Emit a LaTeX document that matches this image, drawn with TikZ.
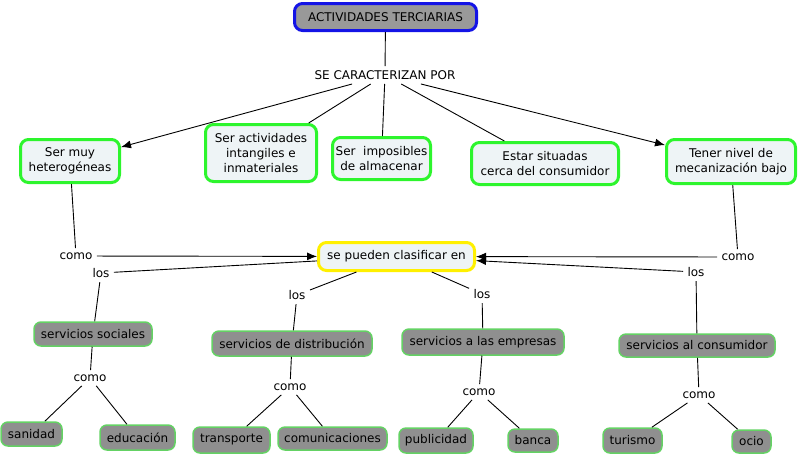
\documentclass[tikz,border=0pt]{standalone}
\usepackage{fontspec}
\setmainfont{DejaVu Sans}
\usetikzlibrary{arrows.meta, positioning}
\definecolor{azul}{RGB}{20,20,230}
\definecolor{verde}{RGB}{45,245,45}
\definecolor{verdesuave}{RGB}{100,210,100}
\definecolor{amarillo}{RGB}{255,240,0}
\definecolor{claro}{RGB}{238,244,246}
\definecolor{gris}{RGB}{153,153,153}
\definecolor{grisoscuro}{RGB}{143,143,143}

\begin{document}
\begin{tikzpicture}[x=1pt, y=-1pt, line width=0.9pt,
  texto/.style={font=\fontsize{12}{15}\selectfont},
  principal/.style={texto, draw=azul, line width=3pt, fill=gris, rounded corners=8pt, inner sep=2pt},
  rasgo/.style={texto, draw=verde, line width=3pt, fill=claro, rounded corners=8pt, align=center, inner sep=2pt},
  clase/.style={texto, draw=amarillo, line width=3pt, fill=claro, rounded corners=8pt, inner sep=2pt},
  tipo/.style={texto, draw=verdesuave, line width=1.5pt, fill=grisoscuro, rounded corners=7pt, inner sep=2pt},
  enlace/.style={texto, inner sep=4pt},
  flecha/.style={-{Latex[length=10pt, width=8pt]}}]
  \useasboundingbox (0,0) rectangle (799,456);

  \node[principal, minimum width=182pt, minimum height=27pt] (act) at (385.5, 17) {ACTIVIDADES TERCIARIAS};
  \node[enlace] (se) at (385, 75) {SE CARACTERIZAN POR};

  \node[rasgo, minimum width=99pt, minimum height=43pt] (muy) at (70, 161) {Ser muy\\heterogéneas};
  \node[rasgo, minimum width=111pt, minimum height=57pt] (intang) at (261, 153) {Ser actividades\\intangiles e\\inmateriales};
  \node[rasgo, minimum width=98pt, minimum height=42pt] (impos) at (381.5, 158.5) {Ser\ \ imposibles\\de almacenar};
  \node[rasgo, minimum width=147pt, minimum height=42pt] (cerca) at (545, 163.5) {Estar situadas\\cerca del consumidor};
  \node[rasgo, minimum width=129pt, minimum height=44pt] (meca) at (731, 161.5) {Tener nivel de\\mecanización bajo};

  \draw (act) -- (se);
  \draw[flecha] (se) -- (muy);
  \draw (se) -- (intang);
  \draw (se) -- (impos);
  \draw (se) -- (cerca);
  \draw[flecha] (se) -- (meca);

  \node[clase, minimum width=156pt, minimum height=28pt] (clas) at (396.5, 256.5) {se pueden clasificar en};

  % como / los around the middle box
  \node[enlace] (comoizq) at (76, 256) {como};
  \node[enlace] (losizq) at (101, 273) {los};
  \node[enlace] (comoder) at (738, 257) {como};
  \node[enlace] (losder) at (696, 272) {los};
  \node[enlace] (losdist) at (297, 295) {los};
  \node[enlace] (losemp) at (482, 294) {los};

  \draw (muy) -- (comoizq);
  \draw[flecha] (comoizq) -- (clas);
  \draw (meca) -- (comoder);
  \draw[flecha] (comoder) -- (clas);
  \draw (clas) -- (losizq);
  \draw[flecha] (losder) -- (clas);
  \draw (clas) -- (losdist);
  \draw (clas) -- (losemp);

  \node[tipo, minimum width=118pt, minimum height=24pt] (soc) at (93, 334) {servicios sociales};
  \node[tipo, minimum width=160pt, minimum height=25pt] (dist) at (292, 343.5) {servicios de distribución};
  \node[tipo, minimum width=162pt, minimum height=26pt] (emp) at (483, 342) {servicios a las empresas};
  \node[tipo, minimum width=156pt, minimum height=23pt] (cons) at (697, 345.5) {servicios al consumidor};

  \draw (losizq) -- (soc);
  \draw (losdist) -- (dist);
  \draw (losemp) -- (emp);
  \draw (losder) -- (cons);

  \node[enlace] (comosoc) at (90, 378) {como};
  \node[enlace] (comodist) at (290, 387) {como};
  \node[enlace] (comoemp) at (479, 392) {como};
  \node[enlace] (comocons) at (699, 395) {como};

  \draw (soc) -- (comosoc);
  \draw (dist) -- (comodist);
  \draw (emp) -- (comoemp);
  \draw (cons) -- (comocons);

  \node[tipo, minimum width=61pt, minimum height=24pt] (san) at (31.5, 434) {sanidad};
  \node[tipo, minimum width=75pt, minimum height=25pt] (edu) at (137.5, 437.5) {educación};
  \node[tipo, minimum width=77pt, minimum height=26pt] (trans) at (231.5, 440) {transporte};
  \node[tipo, minimum width=109pt, minimum height=23pt] (comun) at (332.5, 438.5) {comunicaciones};
  \node[tipo, minimum width=74pt, minimum height=25pt] (publi) at (436, 440.5) {publicidad};
  \node[tipo, minimum width=50pt, minimum height=23pt] (banca) at (533, 440.5) {banca};
  \node[tipo, minimum width=59pt, minimum height=25pt] (tur) at (632.5, 440.5) {turismo};
  \node[tipo, minimum width=39pt, minimum height=23pt] (ocio) at (751.5, 441.5) {ocio};

  \draw (comosoc) -- (san);
  \draw (comosoc) -- (edu);
  \draw (comodist) -- (trans);
  \draw (comodist) -- (comun);
  \draw (comoemp) -- (publi);
  \draw (comoemp) -- (banca);
  \draw (comocons) -- (tur);
  \draw (comocons) -- (ocio);
\end{tikzpicture}
\end{document}
